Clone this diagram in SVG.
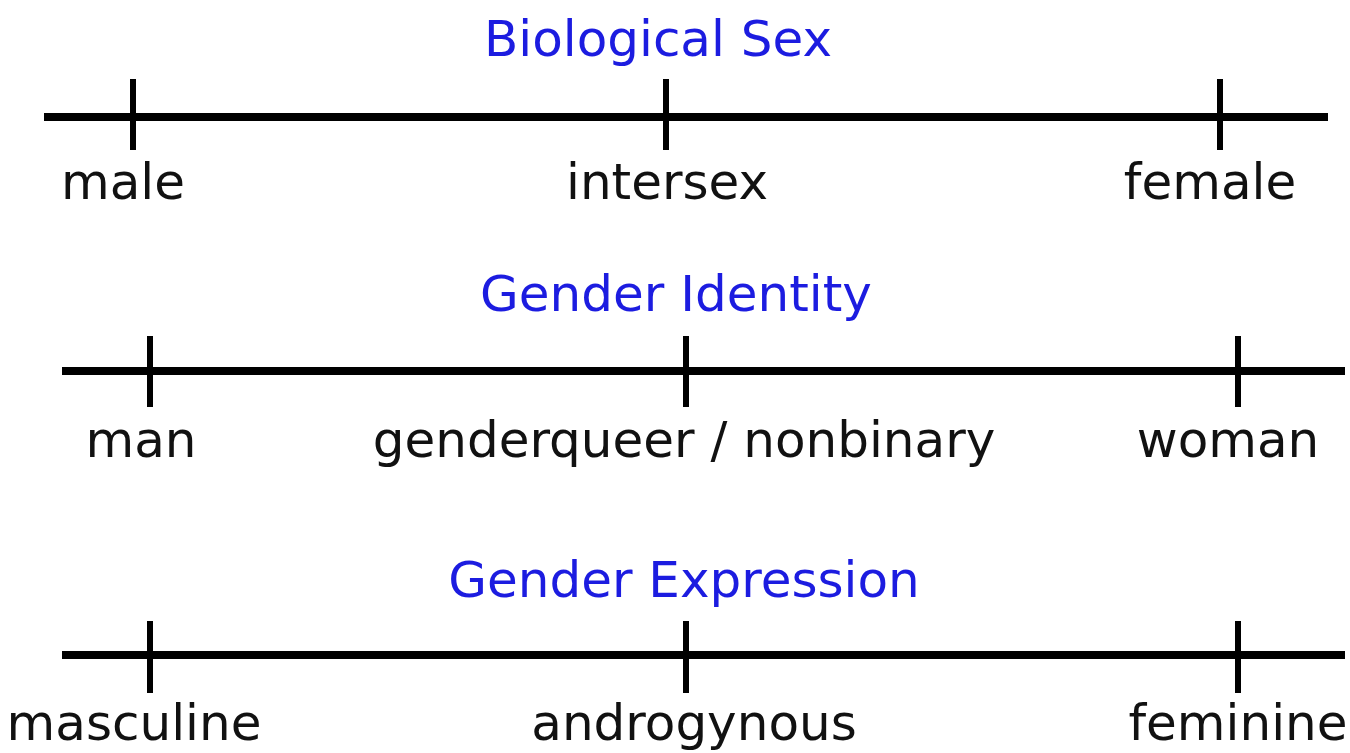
<svg xmlns="http://www.w3.org/2000/svg" width="1350" height="753" viewBox="0 0 1350 753">
<style>
.axis{stroke:#000;stroke-width:8;fill:none}
.tick{stroke:#000;stroke-width:6;fill:none}
.title{font-family:"DejaVu Sans",sans-serif;font-size:50px;fill:#1c1ce0;text-anchor:middle}
.lbl{font-family:"DejaVu Sans",sans-serif;font-size:50px;fill:#111;text-anchor:middle}
</style>
<rect width="1350" height="753" fill="#fff"/>
<g id="connectors">
<line class="axis" x1="44" y1="117" x2="1328" y2="117"/>
<line class="axis" x1="62" y1="371" x2="1345" y2="371"/>
<line class="axis" x1="62" y1="655" x2="1345" y2="655"/>
</g>
<g id="biological-sex">
<text class="title" x="658" y="56">Biological Sex</text>
<line class="tick" x1="133" y1="79" x2="133" y2="150"/>
<line class="tick" x1="666" y1="79" x2="666" y2="150"/>
<line class="tick" x1="1220" y1="79" x2="1220" y2="150"/>
<text class="lbl" x="123" y="199">male</text>
<text class="lbl" x="667" y="199">intersex</text>
<text class="lbl" x="1210" y="199">female</text>
</g>
<g id="gender-identity">
<text class="title" x="676" y="311">Gender Identity</text>
<line class="tick" x1="150" y1="336" x2="150" y2="407"/>
<line class="tick" x1="686" y1="336" x2="686" y2="407"/>
<line class="tick" x1="1238" y1="336" x2="1238" y2="407"/>
<text class="lbl" x="141" y="457">man</text>
<text class="lbl" x="684" y="457">genderqueer / nonbinary</text>
<text class="lbl" x="1228" y="457">woman</text>
</g>
<g id="gender-expression">
<text class="title" x="684" y="597">Gender Expression</text>
<line class="tick" x1="150" y1="621" x2="150" y2="693"/>
<line class="tick" x1="686" y1="621" x2="686" y2="693"/>
<line class="tick" x1="1238" y1="621" x2="1238" y2="693"/>
<text class="lbl" x="134" y="740">masculine</text>
<text class="lbl" x="694" y="740">androgynous</text>
<text class="lbl" x="1238" y="740">feminine</text>
</g>
</svg>
